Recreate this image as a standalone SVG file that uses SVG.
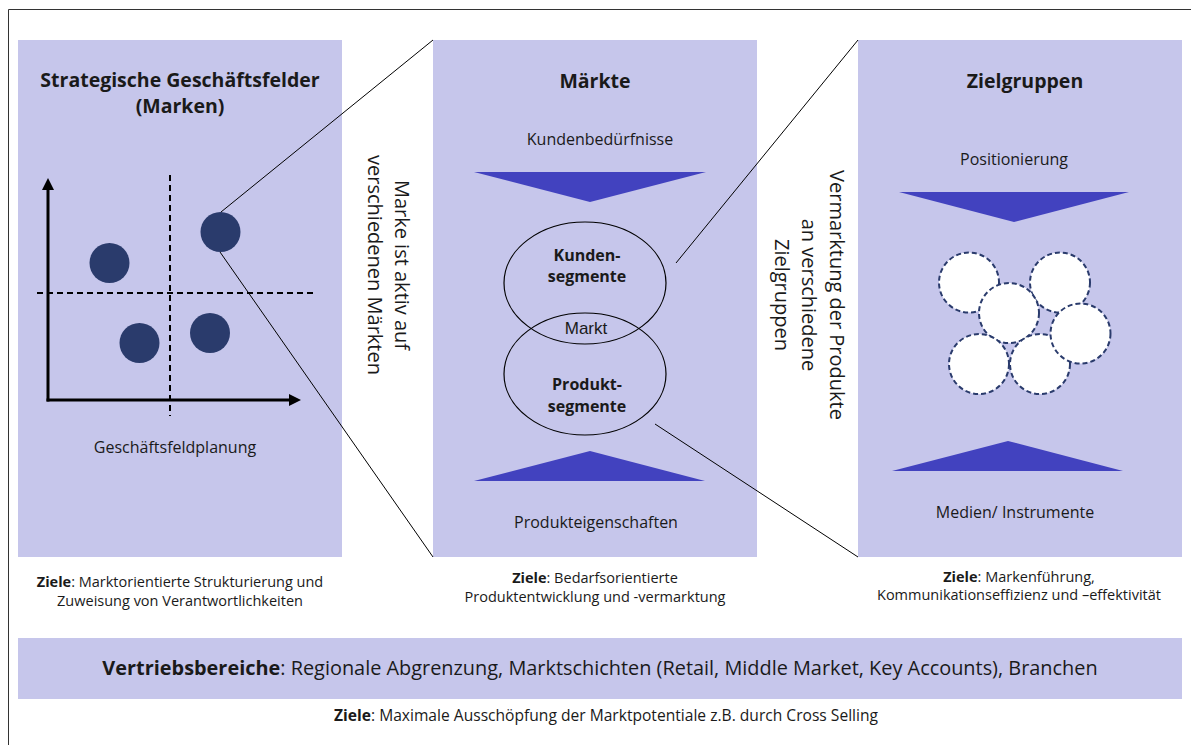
<svg xmlns="http://www.w3.org/2000/svg" width="1191" height="745" viewBox="0 0 1191 745">
  <style>
    text { font-family: "Open Sans", "Noto Sans", sans-serif; fill: #1a1a1a; }
    .title { font-size: 19.5px; font-weight: bold; text-anchor: middle; }
    .lbl { font-size: 16px; text-anchor: middle; }
    .seg { font-size: 16px; font-weight: bold; text-anchor: middle; }
    .rot { font-size: 20px; text-anchor: middle; }
    .goal { font-size: 14.5px; text-anchor: middle; }
    .b { font-weight: bold; }
    .panel { fill: #C6C6EB; }
    .wedge { fill: #4242BF; }
    .dot { fill: #2A3B6C; }
    .seg-ring { fill: none; stroke: #000; stroke-width: 1.2; }
    .group-ring { fill: #fff; stroke: #2A3B6C; stroke-width: 2; stroke-dasharray: 5 3; }
    .link { stroke: #000; stroke-width: 1; fill: none; }
    .axis { stroke: #000; stroke-width: 3; fill: none; }
    .grid { stroke: #000; stroke-width: 2; stroke-dasharray: 6 4; fill: none; }
  </style>
  <defs>
    <marker id="axis-head" viewBox="0 0 12 12" refX="1" refY="6" markerWidth="4" markerHeight="4" markerUnits="strokeWidth" orient="auto">
      <path d="M0,0 L12,6 L0,12 Z" fill="#000"/>
    </marker>
  </defs>

  <rect width="1191" height="745" fill="#fff"/>
  <!-- outer frame (open at right and bottom) -->
  <path d="M8.5,745 V9.5 H1191" fill="none" stroke="#333" stroke-width="1"/>

  <!-- Strategic business fields -->
  <g id="geschaeftsfelder">
    <rect class="panel" x="18" y="40" width="324" height="517"/>
    <text class="title" x="180" y="87">Strategische Geschäftsfelder</text>
    <text class="title" x="180" y="113">(Marken)</text>
    <line class="grid" x1="170" y1="175" x2="170" y2="416"/>
    <line class="grid" x1="37" y1="293" x2="313" y2="293"/>
    <path class="axis" d="M48,401.5 V189" marker-end="url(#axis-head)"/>
    <path class="axis" d="M46.5,400 H290" marker-end="url(#axis-head)"/>
    <circle class="dot" cx="220.5" cy="232" r="20"/>
    <circle class="dot" cx="109.5" cy="263" r="20"/>
    <circle class="dot" cx="139.5" cy="343" r="20"/>
    <circle class="dot" cx="210" cy="333" r="20"/>
    <text class="lbl" x="175" y="453">Geschäftsfeldplanung</text>
  </g>

  <!-- Markets -->
  <g id="maerkte">
    <rect class="panel" x="433" y="40" width="324" height="517"/>
    <text class="title" x="595" y="88">Märkte</text>
    <text class="lbl" x="600" y="145">Kundenbedürfnisse</text>
    <polygon class="wedge" points="474,172 706,172 590,202"/>
    <ellipse class="seg-ring" cx="585" cy="283" rx="81" ry="61"/>
    <ellipse class="seg-ring" cx="585" cy="374" rx="81" ry="61"/>
    <text class="seg" x="587" y="261">Kunden-</text>
    <text class="seg" x="587" y="282">segmente</text>
    <text x="586" y="334" style="font-family: 'Liberation Sans', Arial, sans-serif; font-size: 17px; text-anchor: middle;">Markt</text>
    <text class="seg" x="587" y="390">Produkt-</text>
    <text class="seg" x="587" y="412">segmente</text>
    <polygon class="wedge" points="474,481 705,481 590,451"/>
    <text class="lbl" x="596" y="528">Produkteigenschaften</text>
  </g>

  <!-- Target groups -->
  <g id="zielgruppen">
    <rect class="panel" x="858" y="40" width="324" height="517"/>
    <text class="title" x="1025" y="88">Zielgruppen</text>
    <text class="lbl" x="1014" y="165">Positionierung</text>
    <polygon class="wedge" points="899,192 1129,192 1014,222"/>
    <circle class="group-ring" cx="969" cy="282.5" r="30"/>
    <circle class="group-ring" cx="1060" cy="282.5" r="30"/>
    <circle class="group-ring" cx="1009" cy="313" r="30"/>
    <circle class="group-ring" cx="1040" cy="364" r="30"/>
    <circle class="group-ring" cx="979" cy="364" r="30"/>
    <circle class="group-ring" cx="1080.5" cy="333.5" r="30"/>
    <polygon class="wedge" points="892,471 1123,471 1008,441"/>
    <text class="lbl" x="1015" y="518">Medien/ Instrumente</text>
  </g>

  <!-- Sales areas band -->
  <g id="vertriebsbereiche">
    <rect class="panel" x="18" y="638" width="1164" height="61"/>
    <text x="600" y="675" style="font-size: 19.9px; text-anchor: middle;"><tspan class="b">Vertriebsbereiche</tspan>: Regionale Abgrenzung, Marktschichten (Retail, Middle Market, Key Accounts), Branchen</text>
  </g>

  <!-- goal statements -->
  <g id="ziele">
    <text class="goal" x="180" y="587"><tspan class="b">Ziele</tspan>: Marktorientierte Strukturierung und</text>
    <text class="goal" x="180" y="606">Zuweisung von Verantwortlichkeiten</text>
    <text class="goal" x="595" y="583"><tspan class="b">Ziele</tspan>: Bedarfsorientierte</text>
    <text class="goal" x="595" y="602">Produktentwicklung und -vermarktung</text>
    <text class="goal" x="1019" y="582"><tspan class="b">Ziele</tspan>: Markenführung,</text>
    <text class="goal" x="1019" y="600">Kommunikationseffizienz und –effektivität</text>
    <text class="goal" x="606" y="721" style="font-size: 15.6px;"><tspan class="b">Ziele</tspan>: Maximale Ausschöpfung der Marktpotentiale z.B. durch Cross Selling</text>
  </g>

  <!-- vertical captions between the panels -->
  <g id="caption-maerkte">
    <text class="rot" transform="translate(395,265) rotate(90)">Marke ist aktiv auf</text>
    <text class="rot" transform="translate(368,265) rotate(90)">verschiedenen Märkten</text>
  </g>
  <g id="caption-zielgruppen">
    <text class="rot" transform="translate(830,295) rotate(90)">Vermarktung der Produkte</text>
    <text class="rot" transform="translate(802,295) rotate(90)">an verschiedene</text>
    <text class="rot" transform="translate(775,295) rotate(90)">Zielgruppen</text>
  </g>

  <!-- zoom connectors -->
  <g id="connectors">
    <line class="link" x1="221" y1="212" x2="433" y2="40"/>
    <line class="link" x1="220" y1="252" x2="433" y2="557"/>
    <line class="link" x1="676" y1="263" x2="858" y2="40"/>
    <line class="link" x1="655" y1="424" x2="858" y2="557"/>
  </g>
</svg>
